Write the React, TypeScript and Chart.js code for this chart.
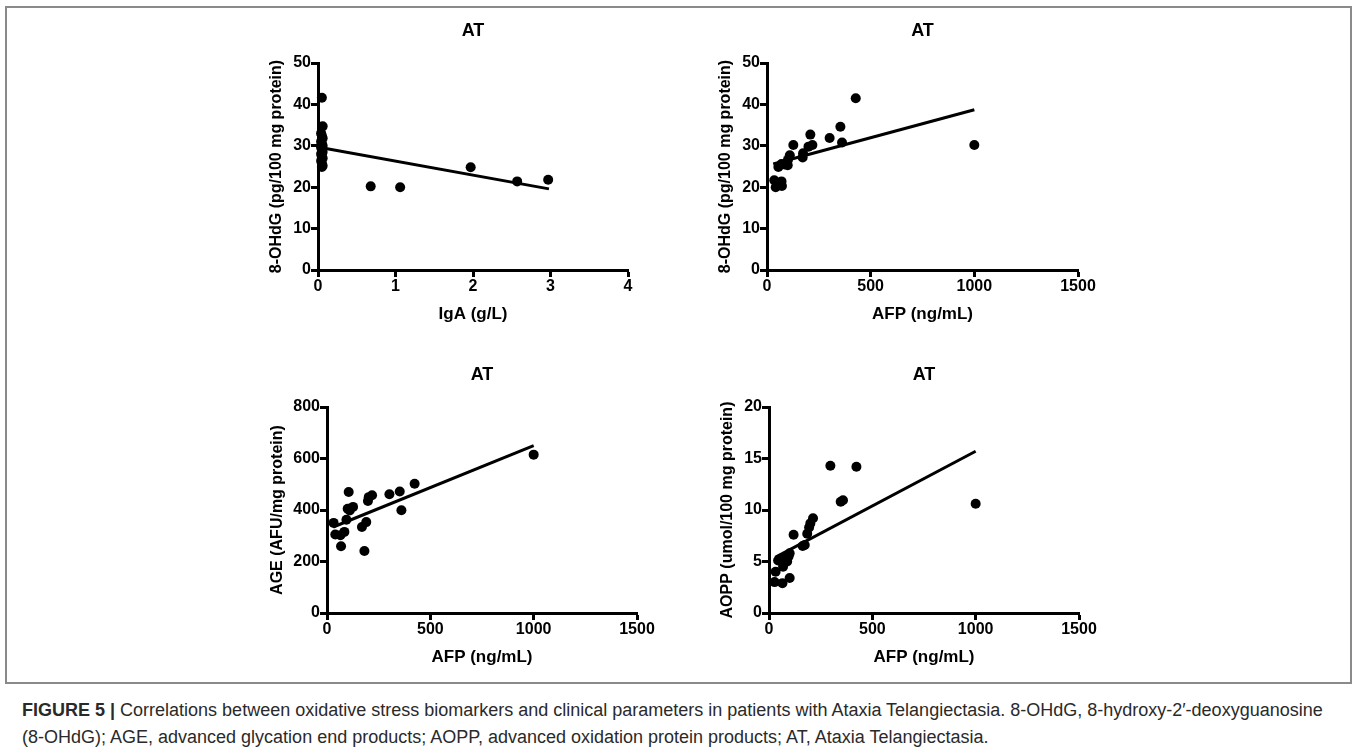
import React, { useEffect, useRef } from "react";
import { Chart, registerables } from "chart.js";

Chart.register(...registerables);

const FONT = '"Liberation Sans", Arial, Helvetica, sans-serif';

// ---------- Panel 1: IgA (g/L) vs 8-OHdG ----------
const igaX = [0.05, 0.06, 0.04, 0.05, 0.06, 0.04, 0.05, 0.06, 0.04, 0.05, 0.06, 0.04, 0.05, 0.06, 0.04, 0.05, 0.06, 0.05, 0.68, 1.06, 1.97, 2.57, 2.97];
const igaOhdg = [41.6, 34.7, 33.0, 32.4, 31.8, 31.0, 30.5, 30.0, 29.6, 29.0, 28.5, 28.0, 27.5, 27.0, 26.4, 25.8, 25.2, 24.9, 20.2, 20.0, 24.8, 21.4, 21.8];
const igaFitX = [0.03, 2.98];
const igaFitY = [29.6, 19.6];

// ---------- Panel 2: AFP (ng/mL) vs 8-OHdG ----------
const afpOhdgX = [428, 1000, 354, 362, 302, 209, 219, 200, 174, 172, 127, 110, 101, 100, 85, 70, 55, 35, 42, 70, 72];
const afpOhdgY = [41.5, 30.2, 34.6, 30.8, 31.9, 32.7, 30.2, 29.8, 28.2, 27.2, 30.2, 27.7, 26.6, 25.3, 25.5, 25.6, 24.9, 21.7, 20.0, 21.4, 20.3];
const afpOhdgFitX = [30, 1000];
const afpOhdgFitY = [25.6, 38.7];

// ---------- Panel 3: AFP (ng/mL) vs AGE ----------
const afpAgeX = [1000, 424, 352, 360, 302, 218, 202, 198, 190, 169, 181, 105, 126, 100, 94, 32, 40, 65, 84, 68, 110];
const afpAgeY = [615, 502, 472, 399, 461, 457, 450, 435, 353, 334, 241, 470, 412, 405, 362, 350, 305, 302, 315, 259, 398];
const afpAgeFitX = [30, 1000];
const afpAgeFitY = [334, 650];

// ---------- Panel 4: AFP (ng/mL) vs AOPP ----------
const afpAoppX = [297, 423, 1000, 347, 358, 213, 200, 194, 185, 173, 163, 119, 100, 95, 88, 76, 68, 60, 44, 32, 27, 65, 100];
const afpAoppY = [14.3, 14.2, 10.6, 10.8, 10.95, 9.2, 8.7, 8.3, 7.7, 6.6, 6.5, 7.6, 5.8, 5.5, 5.0, 4.9, 4.5, 5.3, 5.1, 4.0, 3.0, 2.9, 3.4];
const afpAoppFitX = [30, 1000];
const afpAoppFitY = [5.4, 15.7];

const panelTitle = "AT";
const xTitleIgA = "IgA (g/L)";
const xTitleAFP = "AFP (ng/mL)";
const yTitleOhdg = "8-OHdG (pg/100 mg protein)";
const yTitleAge = "AGE (AFU/mg protein)";
const yTitleAopp = "AOPP (umol/100 mg protein)";

const captionBold = "FIGURE 5 |";
const captionLine1 =
  " Correlations between oxidative stress biomarkers and clinical parameters in patients with Ataxia Telangiectasia. 8-OHdG, 8-hydroxy-2\u2032-deoxyguanosine";
const captionLine2 =
  "(8-OHdG); AGE, advanced glycation end products; AOPP, advanced oxidation protein products; AT, Ataxia Telangiectasia.";

type PanelProps = {
  L: number;
  T: number;
  R: number;
  B: number;
  xMax: number;
  xStep: number;
  yMax: number;
  yStep: number;
  xTitle: string;
  yTitle: string;
  yTitleGap: number;
  xs: number[];
  ys: number[];
  fitX: number[];
  fitY: number[];
};

const PADL = 90;
const PADT = 60;
const PADR = 40;
const PADB = 70;

const titlePlugin = {
  id: "panelTitle",
  afterDraw(chart: any) {
    const { ctx, chartArea } = chart;
    ctx.save();
    ctx.font = `bold 18px ${FONT}`;
    ctx.fillStyle = "#000";
    ctx.textAlign = "center";
    ctx.textBaseline = "middle";
    ctx.fillText(panelTitle, (chartArea.left + chartArea.right) / 2, chartArea.top - 32);
    ctx.restore();
  },
};

function Panel(p: PanelProps) {
  const ref = useRef<HTMLCanvasElement | null>(null);
  const w = p.R - p.L + PADL + PADR;
  const h = p.B - p.T + PADT + PADB;
  useEffect(() => {
    if (!ref.current) return;
    const pts = p.xs.map((x, i) => ({ x, y: p.ys[i] }));
    const fit = p.fitX.map((x, i) => ({ x, y: p.fitY[i] }));
    const tickFont = { family: FONT, size: 16, weight: "bold" as const, lineHeight: 1.2 };
    const yTitleFont = { family: FONT, size: 16, weight: "bold" as const, lineHeight: 1.2 };
    const xTitleFont = { family: FONT, size: 17, weight: "bold" as const, lineHeight: 1.2 };
    const chart = new Chart(ref.current, {
      type: "scatter",
      data: {
        datasets: [
          {
            data: fit,
            showLine: true,
            borderColor: "#000",
            borderWidth: 3,
            pointRadius: 0,
            order: 0,
            clip: false as any,
          },
          {
            data: pts,
            backgroundColor: "#000",
            borderColor: "#000",
            borderWidth: 0,
            pointRadius: 5,
            order: 1,
            clip: false as any,
          },
        ],
      },
      options: {
        responsive: false,
        animation: false,
        devicePixelRatio: 1,
        layout: { padding: { left: 0, top: PADT, right: PADR, bottom: 0 } },
        plugins: { legend: { display: false }, tooltip: { enabled: false }, title: { display: false } },
        scales: {
          x: {
            type: "linear",
            min: 0,
            max: p.xMax,
            border: { display: true, width: 3, color: "#000" },
            grid: { display: true, drawOnChartArea: false, drawTicks: true, tickLength: 7, tickWidth: 3, color: "#000" },
            ticks: {
              stepSize: p.xStep,
              color: "#000",
              font: tickFont,
              padding: 0,
              maxRotation: 0,
              callback: (v: any) => String(v),
            },
            title: { display: true, text: p.xTitle, color: "#000", font: xTitleFont, padding: { top: 0, bottom: 15.8 } },
            afterFit: (s: any) => {
              s.height = PADB;
            },
          },
          y: {
            type: "linear",
            min: 0,
            max: p.yMax,
            border: { display: true, width: 3, color: "#000" },
            grid: { display: true, drawOnChartArea: false, drawTicks: true, tickLength: 7, tickWidth: 3, color: "#000" },
            ticks: {
              stepSize: p.yStep,
              color: "#000",
              font: tickFont,
              padding: 0,
              callback: (v: any) => String(v),
            },
            title: {
              display: true,
              text: p.yTitle,
              color: "#000",
              font: yTitleFont,
              padding: { top: PADL - p.yTitleGap - 9.6, bottom: 0 },
            },
            afterFit: (s: any) => {
              s.width = PADL;
            },
          },
        },
      },
      plugins: [titlePlugin],
    });
    return () => chart.destroy();
  }, []);
  return (
    <canvas
      ref={ref}
      width={w}
      height={h}
      style={{ position: "absolute", left: p.L - PADL, top: p.T - PADT, width: w, height: h }}
    />
  );
}

export default function App() {
  return (
    <div style={{ position: "absolute", left: 0, top: 0, width: 1357, height: 756, background: "#fff", overflow: "hidden" }}>
      <div
        style={{
          position: "absolute",
          left: 5,
          top: 6,
          width: 1347,
          height: 678,
          border: "2px solid #8a8a8a",
          boxSizing: "border-box",
        }}
      />
      <Panel L={318} T={63} R={628} B={270} xMax={4} xStep={1} yMax={50} yStep={10} xTitle={xTitleIgA} yTitle={yTitleOhdg} yTitleGap={41} xs={igaX} ys={igaOhdg} fitX={igaFitX} fitY={igaFitY} />
      <Panel L={767} T={63} R={1078} B={270} xMax={1500} xStep={500} yMax={50} yStep={10} xTitle={xTitleAFP} yTitle={yTitleOhdg} yTitleGap={41} xs={afpOhdgX} ys={afpOhdgY} fitX={afpOhdgFitX} fitY={afpOhdgFitY} />
      <Panel L={327} T={407} R={637} B={613} xMax={1500} xStep={500} yMax={800} yStep={200} xTitle={xTitleAFP} yTitle={yTitleAge} yTitleGap={49} xs={afpAgeX} ys={afpAgeY} fitX={afpAgeFitX} fitY={afpAgeFitY} />
      <Panel L={769} T={407} R={1079} B={613} xMax={1500} xStep={500} yMax={20} yStep={5} xTitle={xTitleAFP} yTitle={yTitleAopp} yTitleGap={41} xs={afpAoppX} ys={afpAoppY} fitX={afpAoppFitX} fitY={afpAoppFitY} />
      <div
        style={{
          position: "absolute",
          left: 22,
          top: 697,
          fontFamily: FONT,
          fontSize: 18,
          lineHeight: "27px",
          color: "#2a2a2a",
          whiteSpace: "nowrap",
        }}
      >
        <span style={{ fontWeight: "bold" }}>{captionBold}</span>
        {captionLine1}
        <br />
        {captionLine2}
      </div>
    </div>
  );
}
